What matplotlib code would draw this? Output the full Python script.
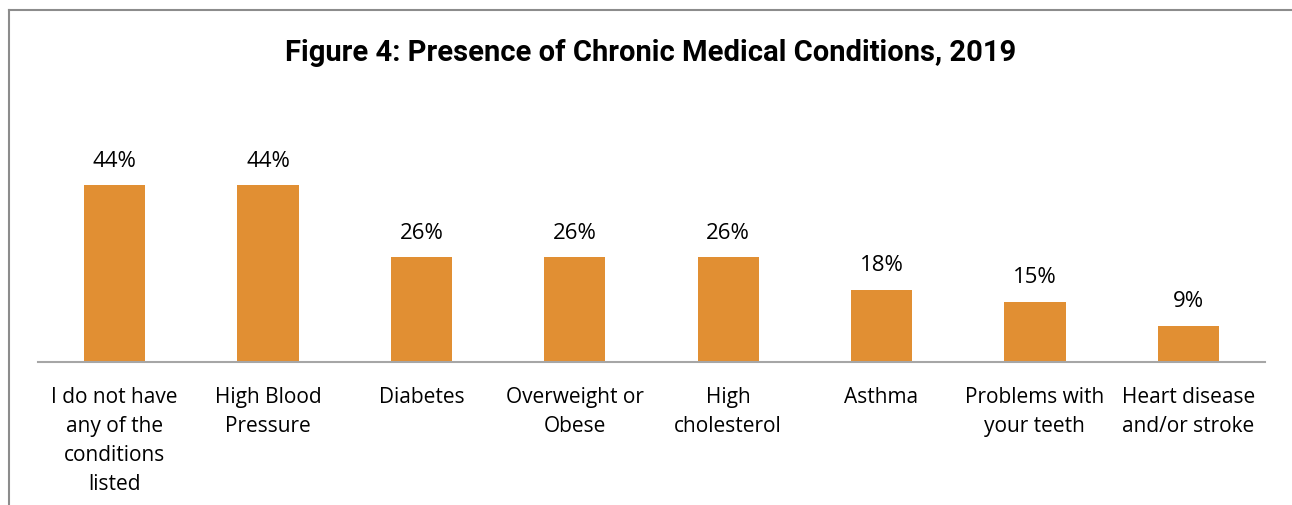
import matplotlib
matplotlib.use("Agg")
import matplotlib.pyplot as plt
from matplotlib.lines import Line2D

categories = ["I do not have\nany of the\nconditions\nlisted", "High Blood\nPressure", "Diabetes",
              "Overweight or\nObese", "High\ncholesterol", "Asthma", "Problems with\nyour teeth",
              "Heart disease\nand/or stroke"]
values = [44, 44, 26, 26, 26, 18, 15, 9]
labels = ["44%", "44%", "26%", "26%", "26%", "18%", "15%", "9%"]
title = "Figure 4: Presence of Chronic Medical Conditions, 2019"

W, H = 1292, 506
fig = plt.figure(figsize=(W / 100, H / 100), dpi=100)
ax = fig.add_axes([38 / W, (H - 363) / H, 1227 / W, 201 / H])

x = list(range(len(categories)))
ax.bar(x, values, width=0.40, color="#E18F33", zorder=2)
ax.set_xlim(-0.5, len(categories) - 0.5)
ax.set_ylim(0, 50)

for xi, v, lab in zip(x, values, labels):
    ax.annotate(lab, (xi, v), xytext=(0, 10.5), textcoords="offset points",
                ha="center", va="bottom", fontsize=16, family="Open Sans", color="#000000")

ax.set_xticks(x)
ax.set_xticklabels(categories, fontsize=15, family="Open Sans", linespacing=1.5, color="#000000")
ax.tick_params(axis="x", length=0, pad=17)
ax.set_yticks([])
for s in ["top", "right", "left"]:
    ax.spines[s].set_visible(False)
ax.spines["bottom"].set_color("#A6A6A6")
ax.spines["bottom"].set_linewidth(1.5)

fig.text(0.5035, (H - 53) / H, title, ha="center", va="center", fontsize=21,
         family="Roboto", weight="bold", color="#000000")

# chart border (left and top edges visible)
fig.add_artist(Line2D([8.5 / W, 8.5 / W], [0, (H - 11) / H], transform=fig.transFigure,
                      color="#8C8C8C", lw=1.5))
fig.add_artist(Line2D([8.5 / W, 1], [(H - 11) / H, (H - 11) / H], transform=fig.transFigure,
                      color="#8C8C8C", lw=1.5))

fig.savefig("out.png", dpi=100)
